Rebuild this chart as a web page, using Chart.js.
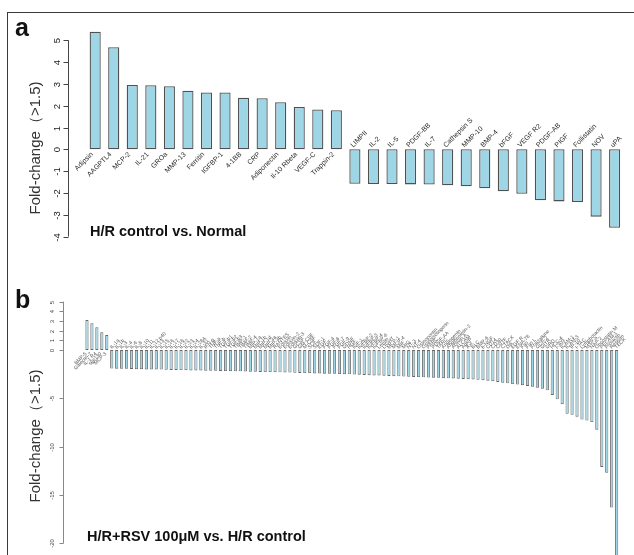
<!DOCTYPE html>
<html>
<head>
<meta charset="utf-8">
<script src="https://cdn.jsdelivr.net/npm/chart.js@4.4.1/dist/chart.umd.min.js"></script>
<style>
  html, body { margin: 0; padding: 0; background: #fff; overflow: hidden; }
  #page { position: relative; width: 634px; height: 555px; overflow: hidden; }
  #frame { position: absolute; left: 7px; top: 12px; width: 700px; height: 700px;
           border-left: 1.5px solid #3a3a3a; border-top: 1.5px solid #3a3a3a; }
  canvas { position: absolute; left: 0; }
  #chartA { top: 0; }
  #chartB { top: 260px; }
</style>
</head>
<body>
<div id="page">
  <div id="frame"></div>
  <canvas id="chartA" width="634" height="260"></canvas>
  <canvas id="chartB" width="634" height="320"></canvas>
</div>
<script>
// panel a: H/R control vs. Normal
const labelsA = ['Adipsin', 'AAGPTL4', 'MCP-2', 'IL-21', 'GROa', 'MMP-13', 'Ferritin', 'IGFBP-1',
  '4-1BB', 'CRP', 'Adiponectin', 'Il-10 Rbeta', 'VEGF-C', 'Trappin-2',
  'LIMPII', 'IL-2', 'IL-5', 'PDGF-BB', 'IL-7', 'Cathepsin S', 'MMP-10', 'BMP-4', 'bFGF',
  'VEGF R2', 'PDGF-AB', 'PIGF', 'Follistatin', 'NOV', 'uPA'];
const valuesA = [5.39, 4.68, 2.95, 2.94, 2.89, 2.69, 2.61, 2.61, 2.37, 2.34, 2.16, 1.94, 1.83, 1.79,
  -1.58, -1.59, -1.59, -1.61, -1.62, -1.65, -1.70, -1.79, -1.93, -2.04, -2.34, -2.39, -2.42, -3.09, -3.60];
const ticksA = [5, 4, 3, 2, 1, 0, -1, -2, -3, -4];

// panel b: H/R+RSV 100uM vs. H/R control
const labelsBUp = ['BMP-5', 'Galectin-7', 'IL-1 R4', 'sgp130', 'MCP-3'];
const valuesBUp = [3.1, 2.76, 2.34, 1.83, 1.55];
const labelsBDown = ['IL-1a', 'IL-1b', 'IL-3', 'IL-4', 'IL-6', 'IL-8', 'IL-10', 'IL-11', 'IL-12 p40', 'IL-13',
  'IL-15', 'IL-16', 'IL-17', 'IL-18', 'IL-22', 'IL-23', 'IL-24', 'IL-28A', 'IL-31', 'IFN-g',
  'TNF-a', 'TNF-b', 'TGF-b1', 'TGF-b2', 'TGF-b3', 'TIMP-1', 'TIMP-2', 'TIMP-4', 'MIP-1a', 'MIP-1b',
  'MIP-1d', 'MIP-3a', 'MIP-3b', 'RANTES', 'Eotaxin', 'Eotaxin-2', 'Eotaxin-3', 'GCSF', 'GM-CSF', 'M-CSF',
  'SCF', 'SDF-1', 'EGF', 'FGF-4', 'FGF-6', 'FGF-7', 'FGF-9', 'GDNF', 'HGF', 'IGF-1',
  'IGFBP-2', 'IGFBP-3', 'IGFBP-4', 'IGFBP-6', 'Leptin', 'LIGHT', 'MCP-1', 'MCP-4', 'MIF', 'MIG',
  'NT-3', 'NT-4', 'Osteopontin', 'Osteoprotegerin', 'PARC', 'PDGF-AA', 'TARC', 'Angiogenin', 'Angiopoietin-2', 'Activin A',
  'ALCAM', 'AgRP', 'Axl', 'BLC', 'BMP-6', 'b-NGF', 'CD14', 'CD30', 'CNTF', 'CTACK',
  'Dtk', 'EGF R', 'ENA-78', 'Fas', 'Fas L', 'Fractalkine', 'GCP-2', 'GITR', 'GRO', 'HCC-4',
  'I-309', 'ICAM-1', 'ICAM-3', 'IP-10', 'I-TAC', 'Lymphotactin', 'MSP-a', 'NAP-2', 'Oncostatin M', 'PECAM-1',
  'Prolactin', 'Resistin', 'TECK'];
const valuesBDown = [
  -1.92, -1.93, -1.95, -1.95, -1.96, -1.98, -1.99, -2.01, -2.02, -2.02,
  -2.03, -2.05, -2.06, -2.06, -2.08, -2.09, -2.11, -2.11, -2.12, -2.14,
  -2.15, -2.15, -2.17, -2.18, -2.20, -2.21, -2.21, -2.23, -2.24, -2.26,
  -2.27, -2.28, -2.28, -2.30, -2.31, -2.33, -2.34, -2.36, -2.37, -2.39,
  -2.40, -2.42, -2.43, -2.45, -2.46, -2.47, -2.49, -2.51, -2.52, -2.54,
  -2.56, -2.58, -2.61, -2.63, -2.64, -2.66, -2.69, -2.71, -2.72, -2.75,
  -2.77, -2.79, -2.80, -2.83, -2.85, -2.86, -2.88, -2.91, -2.93, -2.95,
  -2.97, -3.00, -3.02, -3.05, -3.09, -3.12, -3.18, -3.22, -3.30, -3.38,
  -3.45, -3.52, -3.58, -3.64, -3.72, -3.80, -3.91, -4.02, -4.17, -4.65,
  -5.1, -5.6, -6.6, -6.7, -6.9, -7.2, -7.3, -7.45, -8.25, -12.1, -12.7, -16.3, -21.8];
const ticksB = [5, 4, 3, 2, 1, 0, -5, -10, -15, -20];

const BAR_FILL = '#9fd6e6';
const Y_TITLE = 'Fold-change（>1.5)';

// draws the R-style axis, rotated category labels and panel texts
function panelPlugin(cfg) {
  return {
    id: 'panel',
    afterDraw(chart) {
      const ctx = chart.ctx;
      const x = chart.scales.x;
      const y = chart.scales.y;
      ctx.save();

      // y axis
      ctx.strokeStyle = cfg.axisColor;
      ctx.lineWidth = 1;
      const ax = cfg.axisX + 0.5;
      ctx.beginPath();
      ctx.moveTo(ax, y.getPixelForValue(cfg.ticks[0]));
      ctx.lineTo(ax, y.getPixelForValue(cfg.ticks[cfg.ticks.length - 1]));
      ctx.stroke();
      ctx.font = cfg.tickFont;
      ctx.fillStyle = cfg.tickColor;
      ctx.textAlign = 'center';
      ctx.textBaseline = 'middle';
      cfg.ticks.forEach(t => {
        const py = Math.round(y.getPixelForValue(t)) + 0.5;
        ctx.beginPath();
        ctx.moveTo(ax, py);
        ctx.lineTo(ax - cfg.tickLen, py);
        ctx.stroke();
        ctx.save();
        ctx.translate(cfg.tickLabelX, py);
        ctx.rotate(-Math.PI / 2);
        ctx.fillText(String(t), 0, 0);
        ctx.restore();
      });

      // category labels, 45 degrees, on the other side of zero
      const zero = y.getPixelForValue(0);
      const vals = chart.data.datasets[0].data;
      ctx.font = cfg.catFont;
      ctx.fillStyle = cfg.catColor;
      ctx.textBaseline = 'middle';
      chart.data.labels.forEach((lab, i) => {
        const px = x.getPixelForValue(i);
        ctx.save();
        if (vals[i] >= 0) {
          ctx.translate(px + cfg.dx, zero + cfg.dyPos);
          ctx.textAlign = 'right';
        } else {
          ctx.translate(px + cfg.dx, zero - cfg.dyNeg);
          ctx.textAlign = 'left';
        }
        ctx.rotate(-Math.PI / 4);
        ctx.fillText(lab, 0, 0);
        ctx.restore();
      });

      // y title
      ctx.save();
      ctx.font = '15px "Liberation Sans", Arial, sans-serif';
      ctx.fillStyle = '#333';
      ctx.textAlign = 'center';
      ctx.textBaseline = 'middle';
      ctx.translate(cfg.titleX, cfg.titleY);
      ctx.rotate(-Math.PI / 2);
      ctx.fillText(Y_TITLE, 0, 0);
      ctx.restore();

      // panel letter and comparison
      ctx.fillStyle = '#111';
      ctx.textAlign = 'left';
      ctx.textBaseline = 'alphabetic';
      ctx.font = 'bold 25px "Liberation Sans", Arial, sans-serif';
      ctx.fillText(cfg.letter, 15, cfg.letterY);
      ctx.font = 'bold 14.5px "Liberation Sans", Arial, sans-serif';
      ctx.fillText(cfg.caption, cfg.captionX, cfg.captionY);
      ctx.restore();
    }
  };
}

function makeBars(canvasId, labels, values, opts, pluginCfg) {
  return new Chart(document.getElementById(canvasId), {
    type: 'bar',
    data: {
      labels,
      datasets: [{
        data: values,
        backgroundColor: BAR_FILL,
        borderColor: opts.border,
        borderWidth: opts.borderWidth,
        borderSkipped: false,
        barPercentage: opts.barPct,
        categoryPercentage: 1
      }]
    },
    options: {
      responsive: false,
      animation: false,
      events: [],
      layout: { padding: opts.padding },
      plugins: { legend: { display: false }, tooltip: { enabled: false } },
      scales: {
        x: { display: false, offset: true },
        y: { display: false, min: opts.min, max: opts.max }
      }
    },
    plugins: [panelPlugin(pluginCfg)]
  });
}

makeBars('chartA', labelsA, valuesA,
  { border: '#505050', borderWidth: 1.3, barPct: 0.6, min: -4.5, max: 6,
    padding: { left: 85.9, right: 10.1, top: 18.5, bottom: 12.6 } },
  { ticks: ticksA, axisX: 68, tickLen: 5, tickLabelX: 57, axisColor: '#444',
    tickFont: '9.5px "Liberation Sans", Arial, sans-serif', tickColor: '#222',
    catFont: '7px "Liberation Sans", Arial, sans-serif', catColor: '#2a2a2a',
    dx: -3, dyPos: 4, dyNeg: 3,
    titleX: 36, titleY: 148, letter: 'a', letterY: 36,
    caption: 'H/R control vs. Normal', captionX: 90, captionY: 236 });

makeBars('chartB', labelsBUp.concat(labelsBDown), valuesBUp.concat(valuesBDown),
  { border: '#666', borderWidth: 0.9, barPct: 0.64, min: -23, max: 7,
    padding: { left: 84.5, right: 14.9, top: 22.3, bottom: 7.6 } },
  { ticks: ticksB, axisX: 63, tickLen: 4, tickLabelX: 52, axisColor: '#888',
    tickFont: '6px "Liberation Sans", Arial, sans-serif', tickColor: '#444',
    catFont: '5px "Liberation Sans", Arial, sans-serif', catColor: '#555',
    dx: -1, dyPos: 3, dyNeg: 2,
    titleX: 36, titleY: 176, letter: 'b', letterY: 48,
    caption: 'H/R+RSV 100μM vs. H/R control', captionX: 87, captionY: 281 });
</script>
</body>
</html>
